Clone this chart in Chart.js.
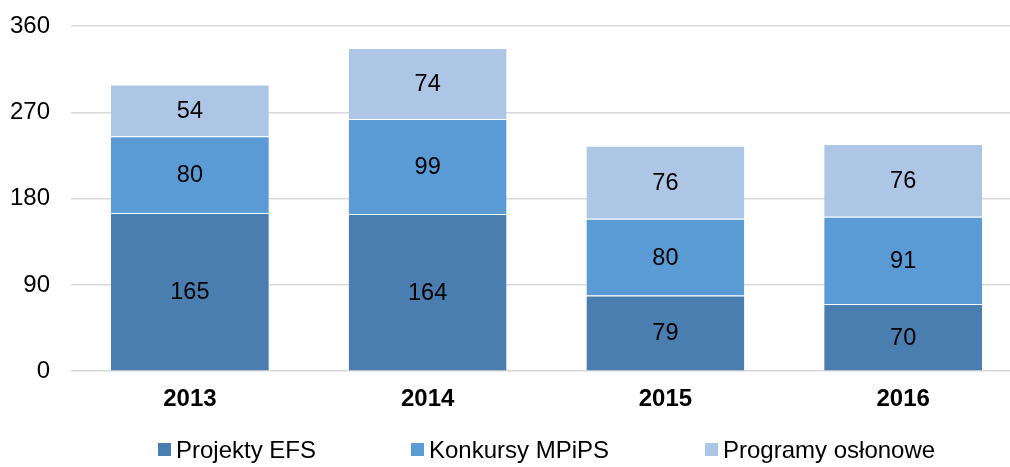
<!DOCTYPE html>
<html>
<head>
<meta charset="utf-8">
<script src="https://cdn.jsdelivr.net/npm/chart.js@4.4.0/dist/chart.umd.min.js"></script>
<style>
  html, body { margin: 0; padding: 0; background: #fff; overflow: hidden; }
  #wrap { width: 1024px; height: 467px; }
</style>
</head>
<body>
<div id="wrap"><canvas id="projChart"></canvas></div>
<script>
const years = ['2013', '2014', '2015', '2016'];
const projektyEFS = [165, 164, 79, 70];
const konkursyMPiPS = [80, 99, 80, 91];
const programyOslonowe = [54, 74, 76, 76];
const yTicks = [0, 90, 180, 270, 360];

const seriesNames = ['Projekty EFS', 'Konkursy MPiPS', 'Programy osłonowe'];
const seriesColors = ['#4a7eb0', '#5b9bd5', '#adc6e5'];

const FONT = '"Liberation Sans", Arial, sans-serif';
const FS = 24;

// value labels in the middle of each segment
const segmentLabels = {
    id: 'segmentLabels',
    afterDatasetsDraw(chart) {
        const c = chart.ctx;
        c.save();
        c.font = '23.5px ' + FONT;
        c.fillStyle = '#000';
        c.textAlign = 'center';
        c.textBaseline = 'middle';
        chart.data.datasets.forEach((ds, i) => {
            chart.getDatasetMeta(i).data.forEach((bar, j) => {
                const p = bar.getProps(['x', 'y', 'base'], true);
                c.fillText(ds.data[j], p.x, (p.y + p.base) / 2 + 1);
            });
        });
        c.restore();
    }
};

// legend row under the axis
const bottomLegend = {
    id: 'bottomLegend',
    afterDraw(chart) {
        const c = chart.ctx;
        const starts = [158, 411, 705];
        const y = 450;
        c.save();
        c.font = FS + 'px ' + FONT;
        c.textBaseline = 'middle';
        c.textAlign = 'left';
        chart.data.datasets.forEach((ds, i) => {
            c.fillStyle = ds.backgroundColor;
            c.fillRect(starts[i], y - 7, 13, 13);
            c.fillStyle = '#000';
            c.fillText(ds.label, starts[i] + 18, y + 1);
        });
        c.restore();
    }
};

const chart = new Chart(document.getElementById('projChart').getContext('2d'), {
    type: 'bar',
    data: {
        labels: years,
        datasets: [
            { label: seriesNames[0], data: projektyEFS, backgroundColor: seriesColors[0] },
            { label: seriesNames[1], data: konkursyMPiPS, backgroundColor: seriesColors[1] },
            { label: seriesNames[2], data: programyOslonowe, backgroundColor: seriesColors[2] }
        ].map(ds => Object.assign(ds, {
            borderColor: 'rgba(255,255,255,0.55)',
            borderWidth: { top: 1, left: 0, right: 0, bottom: 0 },
            borderSkipped: false,
            barPercentage: 0.664,
            categoryPercentage: 1
        }))
    },
    options: {
        responsive: true,
        maintainAspectRatio: false,
        animation: false,
        layout: { padding: { left: 10, right: 2, top: 26, bottom: 39 } },
        plugins: {
            legend: { display: false },
            tooltip: { enabled: false }
        },
        scales: {
            x: {
                stacked: true,
                grid: { display: false, drawTicks: false },
                border: { display: false },
                ticks: {
                    color: '#000',
                    padding: 14,
                    font: { family: FONT, size: FS, weight: 'bold' }
                }
            },
            y: {
                stacked: true,
                min: 0,
                max: 360,
                afterBuildTicks: axis => { axis.ticks = yTicks.map(v => ({ value: v })); },
                afterFit: axis => {
                    axis.width = 61;
                    axis.paddingTop = 0;
                    axis.paddingBottom = 0;
                },
                grid: { color: '#d9d9d9', lineWidth: 1.5, drawTicks: false },
                border: { display: false },
                ticks: {
                    color: '#000',
                    padding: 21,
                    font: { family: FONT, size: FS }
                }
            }
        }
    },
    plugins: [segmentLabels, bottomLegend]
});
</script>
</body>
</html>
